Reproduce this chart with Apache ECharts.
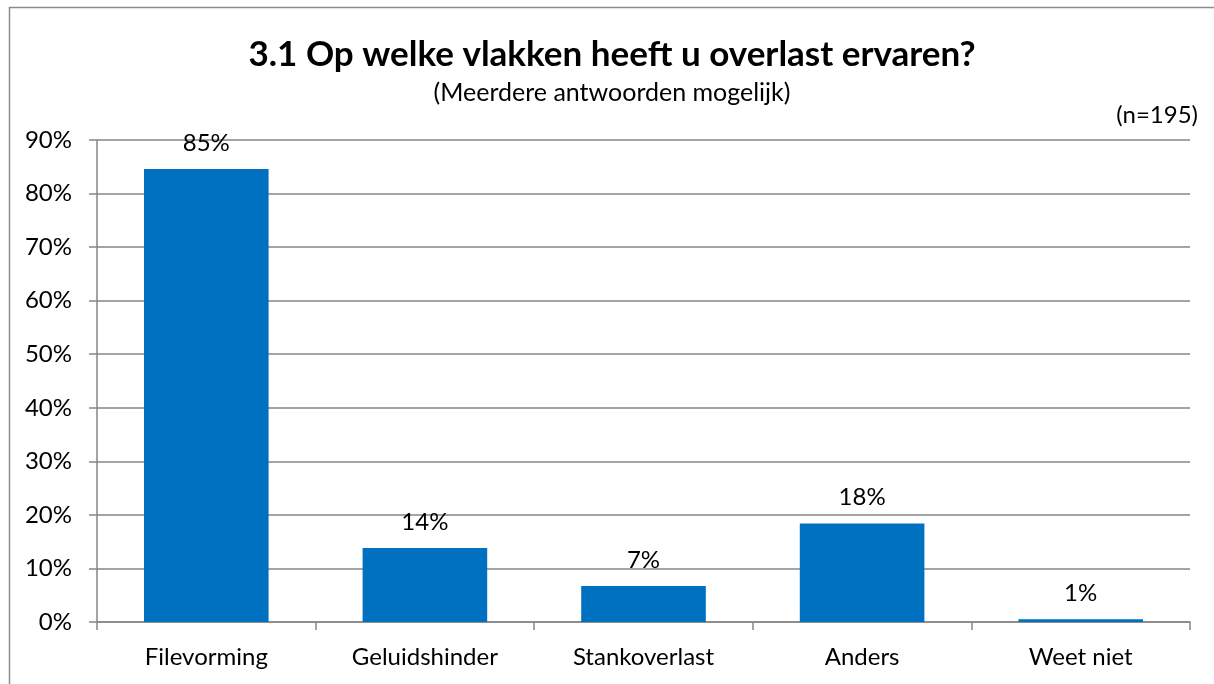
<!DOCTYPE html>
<html><head><meta charset="utf-8">
<script src="https://cdn.jsdelivr.net/npm/echarts@6/dist/echarts.min.js"></script>
<style>html,body{margin:0;padding:0;background:#fff}#c{width:1214px;height:684px}</style>
</head><body><div id="c"></div>
<script>
const titleText = '3.1 Op welke vlakken heeft u overlast ervaren?';
const subtitleText = '(Meerdere antwoorden mogelijk)';
const noteText = '(n=195)';
const categories = ['Filevorming', 'Geluidshinder', 'Stankoverlast', 'Anders', 'Weet niet'];
const values = [84.6, 13.8, 6.7, 18.4, 0.5];
const yTicks = [0, 10, 20, 30, 40, 50, 60, 70, 80, 90];

const chart = echarts.init(document.getElementById('c'));
const font = 'Lato, Carlito, Calibri, sans-serif';
chart.setOption({
  animation: false,
  backgroundColor: '#fff',
  textStyle: { fontFamily: font },
  graphic: [
    { type: 'rect', shape: { x: 9.5, y: 7.5, width: 1230, height: 700 }, style: { fill: 'none', stroke: '#8c8c8c', lineWidth: 1.5 }, silent: true },
    { type: 'text', x: 612, y: 55, style: { text: titleText, font: 'bold 35px ' + font, fill: '#000', textAlign: 'center', textVerticalAlign: 'middle' } },
    { type: 'text', x: 612, y: 93, style: { text: subtitleText, font: '25px ' + font, fill: '#000', textAlign: 'center', textVerticalAlign: 'middle' } },
    { type: 'text', x: 1198, y: 115, style: { text: noteText, font: '24px ' + font, fill: '#000', textAlign: 'right', textVerticalAlign: 'middle' } }
  ],
  grid: { left: 97, right: 24, top: 140, bottom: 62, containLabel: false },
  xAxis: {
    type: 'category',
    data: categories,
    axisLine: { lineStyle: { color: '#868686', width: 1.5 } },
    axisTick: { show: true, length: 8, lineStyle: { color: '#868686', width: 1.5 } },
    axisLabel: { color: '#000', fontSize: 24, fontFamily: font, margin: 23 }
  },
  yAxis: {
    type: 'value',
    min: 0, max: 90, interval: 10,
    axisLine: { show: true, lineStyle: { color: '#868686', width: 1.5 } },
    axisTick: { show: true, length: 8, lineStyle: { color: '#868686', width: 1.5 } },
    splitLine: { lineStyle: { color: '#868686', width: 1.5 } },
    axisLabel: { color: '#000', fontSize: 24, fontFamily: font, margin: 25,
      formatter: v => yTicks.includes(v) ? v + '%' : '' }
  },
  series: [{
    type: 'bar',
    data: values,
    barCategoryGap: '43%',
    itemStyle: { color: '#0070C0' },
    label: { show: true, position: 'top', distance: 14, color: '#000', fontSize: 24, fontFamily: font,
      formatter: p => Math.round(p.value) + '%' }
  }]
});
</script></body></html>
